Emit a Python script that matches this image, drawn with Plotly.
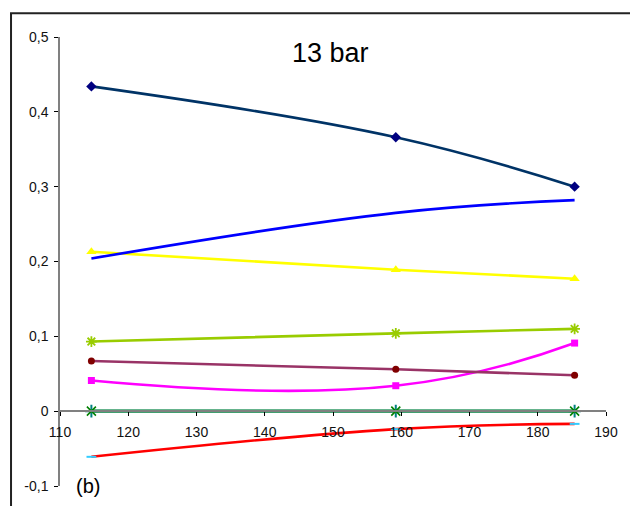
import plotly.graph_objects as go

# Temperatures at which the mole fractions were evaluated
temperature = [114.6, 159.2, 185.4]

# Mole fraction series (13 bar)
navy_series = [0.434, 0.366, 0.300]
blue_series = [0.204, 0.265, 0.282]
yellow_series = [0.213, 0.189, 0.177]
olive_series = [0.093, 0.104, 0.110]
maroon_series = [0.067, 0.056, 0.048]
magenta_series = [0.041, 0.034, 0.091]
zero_series_x = [0.0, 0.0, 0.0]
zero_series_plus = [0.0, 0.0, 0.0]
red_series = [-0.061, -0.024, -0.017]

y_tick_vals = [-0.1, 0, 0.1, 0.2, 0.3, 0.4, 0.5]
y_tick_text = ["-0,1", "0", "0,1", "0,2", "0,3", "0,4", "0,5"]
x_tick_vals = [110, 120, 130, 140, 150, 160, 170, 180, 190]
x_tick_text = ["110", "120", "130", "140", "150", "160", "170", "180", "190"]

FONT = "Liberation Sans, Arial, sans-serif"

fig = go.Figure()


def add_series(y, line_color, marker_symbol=None, marker_color=None,
               marker_size=7, line_width=2.6, marker_line_width=0, smoothing=1.15):
    mode = "lines+markers" if marker_symbol else "lines"
    marker = None
    if marker_symbol:
        marker = dict(symbol=marker_symbol, color=marker_color, size=marker_size,
                      line=dict(color=marker_color, width=marker_line_width))
    fig.add_trace(go.Scatter(
        x=temperature, y=y, mode=mode,
        line=dict(color=line_color, width=line_width, shape="spline", smoothing=smoothing),
        marker=marker, showlegend=False, cliponaxis=False,
    ))


add_series(red_series, "#FF0000", "line-ew", "#33CCFF", marker_size=7, marker_line_width=2)
add_series(zero_series_plus, "#339966", "cross-thin", "#008080", marker_size=9,
           line_width=3.2, marker_line_width=2)
add_series(zero_series_x, "#339966", "x-thin", "#008000", marker_size=9,
           line_width=3.2, marker_line_width=1.6)
add_series(magenta_series, "#FF00FF", "square", "#FF00FF", marker_size=7, smoothing=1.3)
add_series(maroon_series, "#993366", "circle", "#800000", marker_size=7)
add_series(olive_series, "#99CC00", "asterisk-open", "#99CC00", marker_size=9,
           marker_line_width=1.8)
add_series(yellow_series, "#FFFF00", "triangle-up", "#FFFF00", marker_size=9)
add_series(blue_series, "#0000FF")
add_series(navy_series, "#003366", "diamond", "#000080", marker_size=8)

fig.update_layout(
    width=630, height=506,
    margin=dict(l=60, r=24, t=37, b=15),
    paper_bgcolor="white", plot_bgcolor="white",
    font=dict(family=FONT, size=14, color="#000000"),
    xaxis=dict(
        range=[110, 190], tickvals=x_tick_vals, ticktext=x_tick_text,
        showgrid=False, zeroline=False, showline=True, linecolor="#808080",
        linewidth=1.5, ticks="outside", ticklen=4, tickcolor="#000000",
        anchor="free", position=1 / 6, ticklabelstandoff=4,
        tickfont=dict(family=FONT, size=14, color="#111111"),
    ),
    yaxis=dict(
        range=[-0.1, 0.5], tickvals=y_tick_vals, ticktext=y_tick_text,
        showgrid=False, zeroline=False, showline=True, linecolor="#808080",
        linewidth=1.5, ticks="outside", ticklen=4, tickcolor="#000000",
        ticklabelstandoff=3,
        tickfont=dict(family=FONT, size=14, color="#111111"),
    ),
    shapes=[
        # chart-area frame along the top and left edges
        dict(type="path", xref="paper", yref="paper",
             path="M -0.0897,-0.2 L -0.0897,1.053 L 1.2,1.053",
             line=dict(color="#222222", width=2)),
    ],
    annotations=[
        dict(text="13 bar", x=0.496, y=0.965, xref="paper", yref="paper",
             xanchor="center", yanchor="middle", showarrow=False,
             font=dict(family=FONT, size=27, color="#000000")),
        dict(text="(b)", x=0.051, y=0.0, xref="paper", yref="paper",
             xanchor="center", yanchor="middle", showarrow=False,
             font=dict(family=FONT, size=20, color="#000000")),
    ],
)

fig.write_html("out.html")
